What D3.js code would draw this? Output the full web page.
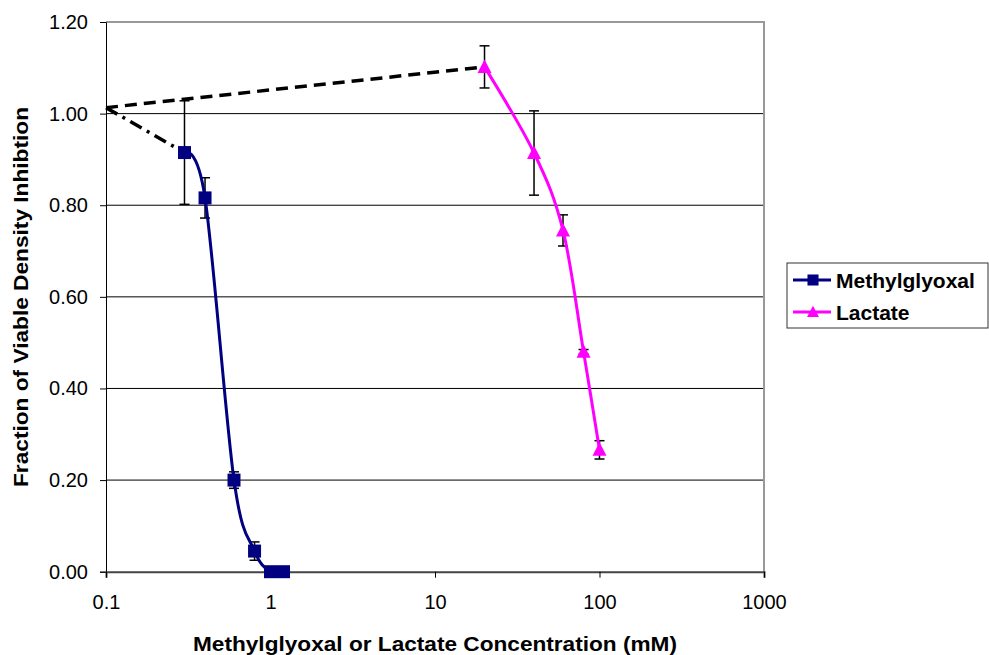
<!DOCTYPE html>
<html>
<head>
<meta charset="utf-8">
<script src="https://cdn.jsdelivr.net/npm/d3@7"></script>
<style>
  html, body { margin: 0; padding: 0; background: #fff; }
  svg text { font-family: "Liberation Sans", Arial, Helvetica, sans-serif; fill: #000; }
</style>
</head>
<body>
<svg id="chart" width="989" height="655"></svg>
<script>
// Methylglyoxal dose response
const mgConc = [0.3, 0.4, 0.6, 0.8, 1.0, 1.2];
const mgFraction = [0.915, 0.816, 0.200, 0.045, 0.0, 0.0];
const mgError = [0.113, 0.044, 0.018, 0.020, 0, 0];

// Lactate dose response
const lacConc = [20, 40, 60, 80, 100];
const lacFraction = [1.102, 0.914, 0.745, 0.480, 0.266];
const lacError = [0.046, 0.092, 0.034, 0.005, 0.020];

// Extrapolation back to the 0.1 mM axis
const extrapStart = [0.1, 1.013];

const xTicks = [0.1, 1, 10, 100, 1000];
const yTicks = [0, 0.2, 0.4, 0.6, 0.8, 1.0, 1.2];

const seriesNames = ["Methylglyoxal", "Lactate"];
const seriesColors = ["#000080", "#ff00ff"];

const svg = d3.select("#chart");
const plotLeft = 106, plotRight = 764, plotTop = 22, plotBottom = 571.7;

const x = d3.scaleLog().domain([0.1, 1000]).range([plotLeft, plotRight]);
const y = d3.scaleLinear().domain([0, 1.2]).range([plotBottom, plotTop]);

// horizontal gridlines
svg.append("g").selectAll("line")
  .data(yTicks.filter(v => v > 0 && v < 1.2))
  .join("line")
  .attr("x1", plotLeft).attr("x2", plotRight)
  .attr("y1", d => y(d)).attr("y2", d => y(d))
  .attr("stroke", "#000").attr("stroke-width", 1);

// plot frame (top & right)
svg.append("path")
  .attr("d", `M${plotLeft},${y(1.2)}H${plotRight}V${plotBottom}`)
  .attr("fill", "none").attr("stroke", "#999").attr("stroke-width", 2);

// y axis
const yAxis = d3.axisLeft(y).tickValues(yTicks).tickSize(6).tickPadding(12)
  .tickFormat(d3.format(".2f"));
const gy = svg.append("g").attr("transform", `translate(${plotLeft},0)`).call(yAxis);
gy.select(".domain").attr("stroke", "#000").attr("stroke-width", 1);
gy.selectAll(".tick line").attr("stroke", "#000");
gy.selectAll(".tick text").attr("font-size", 20).attr("fill", "#000");

// x axis
const xAxis = d3.axisBottom(x).tickValues(xTicks).tickSize(6).tickPadding(17)
  .tickFormat(d => String(d));
const gx = svg.append("g").attr("transform", `translate(0,${plotBottom})`).call(xAxis);
gx.select(".domain").attr("stroke", "#444").attr("stroke-width", 2);
gx.selectAll(".tick line").attr("stroke", "#000");
gx.selectAll(".tick text").attr("font-size", 20).attr("fill", "#000");

// axis titles
svg.append("text")
  .attr("x", 435).attr("y", 651)
  .attr("text-anchor", "middle")
  .attr("font-size", 20).attr("font-weight", "bold")
  .attr("textLength", 484).attr("lengthAdjust", "spacingAndGlyphs")
  .text("Methylglyoxal or Lactate Concentration (mM)");

svg.append("text")
  .attr("transform", "translate(28,297) rotate(-90)")
  .attr("text-anchor", "middle")
  .attr("font-size", 21).attr("font-weight", "bold")
  .attr("textLength", 380).attr("lengthAdjust", "spacingAndGlyphs")
  .text("Fraction of Viable Density Inhibtion");

// extrapolation lines
const straight = d3.line().x(d => x(d[0])).y(d => y(d[1]));
svg.append("path")
  .attr("d", straight([extrapStart, [lacConc[0], lacFraction[0]]]))
  .attr("fill", "none").attr("stroke", "#000").attr("stroke-width", 3.5)
  .attr("stroke-dasharray", "12,7");
svg.append("path")
  .attr("d", straight([extrapStart, [mgConc[0], mgFraction[0]]]))
  .attr("fill", "none").attr("stroke", "#000").attr("stroke-width", 3.5)
  .attr("stroke-dasharray", "13,6,3,6");

const smooth = d3.line().x(d => x(d[0])).y(d => y(d[1])).curve(d3.curveCatmullRom.alpha(0));

function drawSeries(conc, frac, err, color, marker) {
  const pts = conc.map((c, i) => [c, frac[i], err[i]]);
  const g = svg.append("g");
  // error bars
  const eb = g.append("g").selectAll("g").data(pts.filter(p => p[2] > 0)).join("g");
  eb.append("line")
    .attr("x1", d => x(d[0])).attr("x2", d => x(d[0]))
    .attr("y1", d => y(d[1] - d[2])).attr("y2", d => y(d[1] + d[2]))
    .attr("stroke", "#000").attr("stroke-width", 1.5);
  [-1, 1].forEach(s => {
    eb.append("line")
      .attr("x1", d => x(d[0]) - 5).attr("x2", d => x(d[0]) + 5)
      .attr("y1", d => y(d[1] + s * d[2])).attr("y2", d => y(d[1] + s * d[2]))
      .attr("stroke", "#000").attr("stroke-width", 1.5);
  });
  // smoothed line
  g.append("path").attr("d", smooth(pts))
    .attr("fill", "none").attr("stroke", color).attr("stroke-width", 3);
  // markers
  g.append("g").selectAll("path").data(pts).join("path")
    .attr("transform", d => `translate(${x(d[0])},${y(d[1])})`)
    .attr("d", marker)
    .attr("fill", color);
}

const squareMarker = "M-6.5,-6.5H6.5V6.5H-6.5Z";
const triangleMarker = "M0,-7.5L7,6L-7,6Z";

drawSeries(mgConc, mgFraction, mgError, seriesColors[0], squareMarker);
drawSeries(lacConc, lacFraction, lacError, seriesColors[1], triangleMarker);

// legend
const lg = svg.append("g");
lg.append("rect").attr("x", 787).attr("y", 263).attr("width", 201).attr("height", 65)
  .attr("fill", "#fff").attr("stroke", "#333").attr("stroke-width", 1);
const markers = [squareMarker, triangleMarker];
seriesNames.forEach((name, i) => {
  const ly = 280 + i * 32;
  lg.append("line").attr("x1", 793).attr("x2", 831).attr("y1", ly).attr("y2", ly)
    .attr("stroke", seriesColors[i]).attr("stroke-width", 3);
  lg.append("path").attr("transform", `translate(813,${ly}) scale(0.85)`)
    .attr("d", markers[i]).attr("fill", seriesColors[i]);
  lg.append("text").attr("x", 836).attr("y", ly + 8)
    .attr("font-size", 21).attr("font-weight", "bold")
    .text(name);
});
</script>
</body>
</html>
